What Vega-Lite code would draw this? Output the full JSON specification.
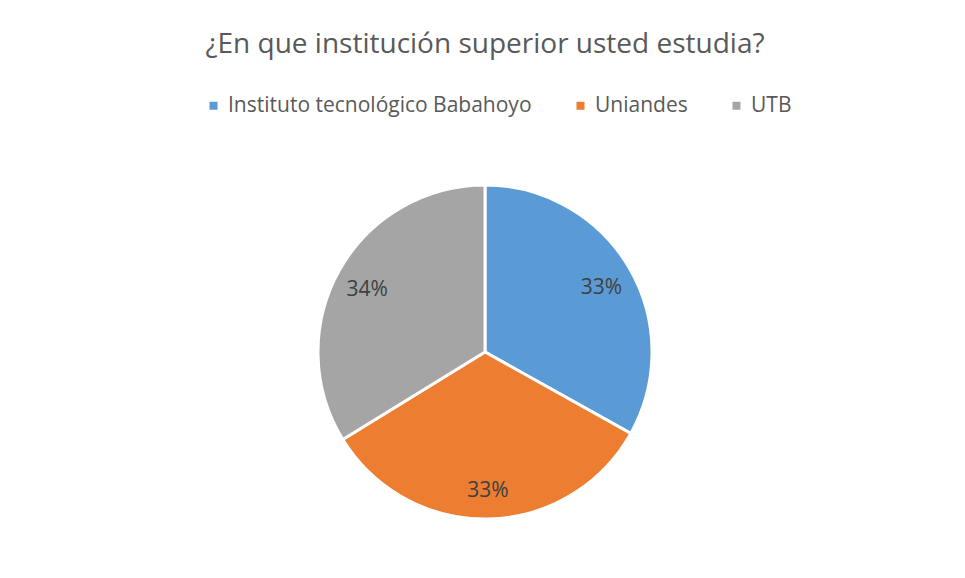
{
  "$schema": "https://vega.github.io/schema/vega-lite/v6.json",
  "width": 960,
  "height": 452,
  "autosize": "none",
  "padding": {"left": 5, "top": 126, "right": 0, "bottom": 0},
  "background": "white",
  "title": {
    "text": "¿En que institución superior usted estudia?",
    "font": "Open Sans",
    "fontSize": 28,
    "fontWeight": "normal",
    "color": "#595959",
    "baseline": "alphabetic",
    "offset": 14,
    "anchor": "middle"
  },
  "data": {
    "values": [
      {"school": "Instituto tecnológico Babahoyo", "value": 49, "label": "33%", "idx": 1},
      {"school": "Uniandes", "value": 49, "label": "33%", "idx": 2},
      {"school": "UTB", "value": 50, "label": "34%", "idx": 3}
    ]
  },
  "encoding": {
    "theta": {"field": "value", "type": "quantitative", "stack": true},
    "order": {"field": "idx", "type": "ordinal"}
  },
  "layer": [
    {
      "mark": {"type": "arc", "outerRadius": 167, "stroke": "white", "strokeWidth": 3},
      "encoding": {
        "color": {
          "field": "school",
          "type": "nominal",
          "scale": {
            "domain": ["Instituto tecnológico Babahoyo", "Uniandes", "UTB"],
            "range": ["#5B9BD5", "#ED7D31", "#A5A5A5"]
          },
          "legend": {
            "orient": "none",
            "legendX": 198,
            "legendY": -31,
            "direction": "horizontal",
            "title": null,
            "symbolType": "square",
            "symbolSize": 64,
            "symbolStrokeWidth": 0,
            "symbolOpacity": 1,
            "labelFont": "Open Sans",
            "labelFontSize": 21,
            "labelColor": "#595959",
            "labelOffset": 4,
            "labelLimit": 500,
            "columnPadding": 38,
            "padding": 0
          }
        }
      }
    },
    {
      "mark": {"type": "text", "radius": 135, "font": "Open Sans", "fontSize": 21, "fill": "#404040", "baseline": "middle", "align": "center", "dy": 4},
      "encoding": {
        "text": {"field": "label", "type": "nominal"}
      }
    }
  ],
  "config": {"view": {"stroke": null}}
}
